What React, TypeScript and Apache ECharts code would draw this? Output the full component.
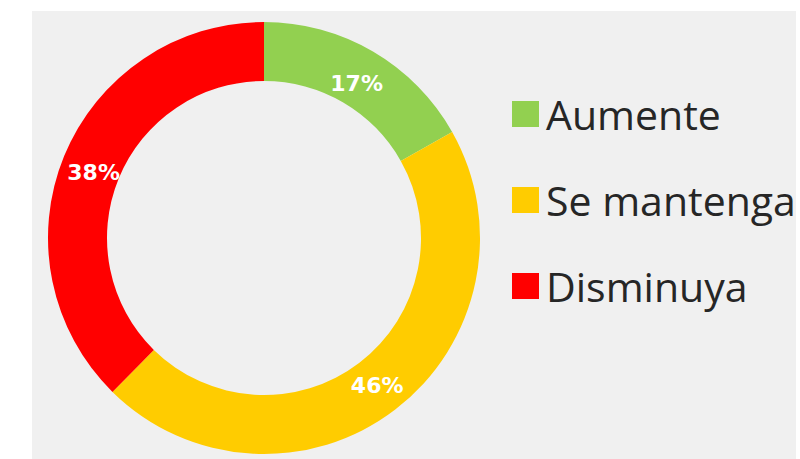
import React, { useEffect, useRef } from "react";
import * as echarts from "echarts";

const categories = ["Aumente", "Se mantenga", "Disminuya"];
const values = [17, 46, 38];
const colors = ["#92d050", "#ffcc00", "#ff0000"];

export default function App() {
  const ref = useRef<HTMLDivElement>(null);
  useEffect(() => {
    if (!ref.current) return;
    const chart = echarts.init(ref.current, undefined, { renderer: "svg" });
    const labelShift: Record<string, number[]> = {
      Aumente: [-3, 9],
      "Se mantenga": [-2, -3],
      Disminuya: [5, 6],
    };
    chart.setOption({
      animation: false,
      backgroundColor: "#ffffff",
      graphic: [
        {
          type: "rect",
          z: -10,
          shape: { x: 32, y: 11, width: 764, height: 448 },
          style: { fill: "#f0f0f0" },
          silent: true,
        },
      ],
      legend: {
        orient: "vertical",
        left: 507,
        top: 87,
        icon: "rect",
        itemWidth: 27,
        itemHeight: 26,
        itemGap: 42,
        data: categories,
        textStyle: {
          fontFamily: "Open Sans",
          fontSize: 41,
          lineHeight: 44,
          color: "#262626",
          padding: [0, 0, 0, 2],
        },
      },
      series: [
        {
          type: "pie",
          center: [264, 238],
          radius: [157, 216],
          startAngle: 90,
          clockwise: true,
          avoidLabelOverlap: false,
          label: {
            show: true,
            position: "inside",
            formatter: "{c}%",
            color: "#ffffff",
            fontFamily: "DejaVu Sans",
            fontWeight: "bold",
            fontSize: 22,
          },
          labelLine: { show: false },
          itemStyle: { borderWidth: 0 },
          emphasis: { disabled: true },
          data: categories.map((name, i) => ({
            name,
            value: values[i],
            itemStyle: { color: colors[i] },
            label: { offset: labelShift[name] },
          })),
        },
      ],
    });
    return () => chart.dispose();
  }, []);
  return (
    <div
      style={{ position: "fixed", left: 0, top: 0, width: 800, height: 459, background: "#fff" }}
    >
      <div ref={ref} style={{ width: 800, height: 459 }} />
    </div>
  );
}
